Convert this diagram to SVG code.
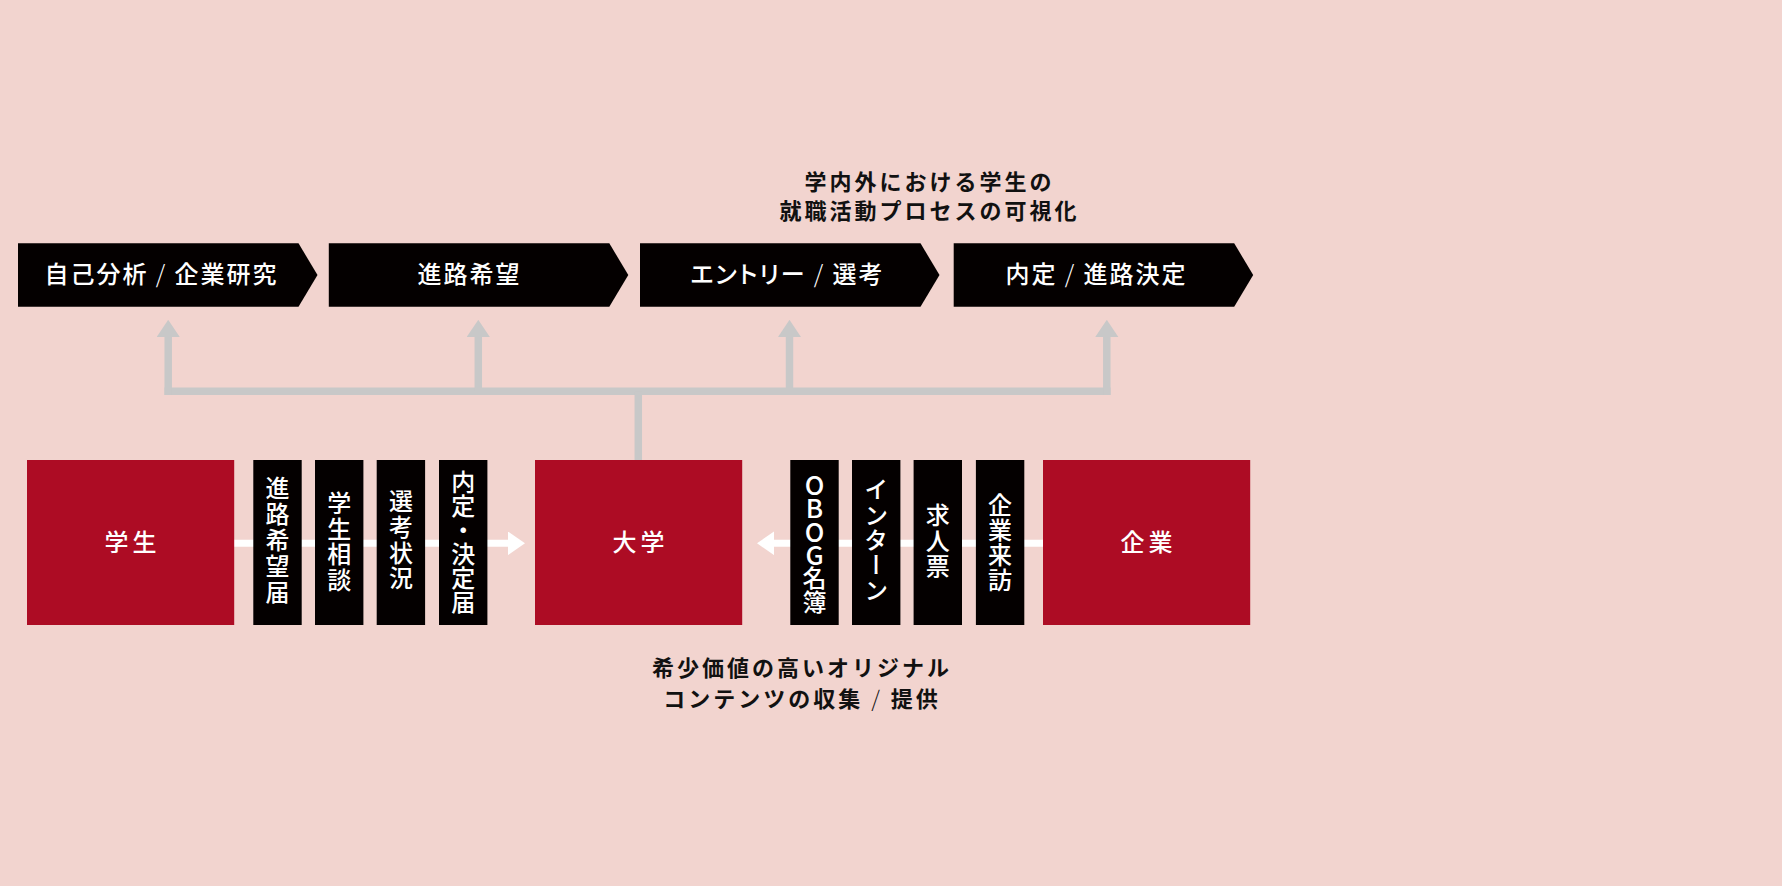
<svg xmlns="http://www.w3.org/2000/svg" width="1782" height="886" viewBox="0 0 1782 886">
<defs>
<style>
text{font-family:"Noto Sans CJK JP","Noto Sans",sans-serif;font-weight:500;}
.bg{fill:#f2d4cf;}
.chev{fill:#040000;}
.red{fill:#ad0c24;}
.col{fill:#040000;}
.chevt{fill:#ffffff;font-size:24px;letter-spacing:2px;text-anchor:middle;font-feature-settings:"palt";}
.big{fill:#ffffff;font-size:24px;letter-spacing:4px;text-anchor:middle;}
.vt{fill:#ffffff;font-size:24px;text-anchor:middle;writing-mode:vertical-rl;text-orientation:upright;}
.lat{font-size:26px;letter-spacing:-2.5px;}
.cap{fill:#111111;font-size:22px;letter-spacing:3px;text-anchor:middle;font-weight:700;}
.thin{font-weight:300;}
.gline{stroke:#c8c8c8;stroke-width:7.5;fill:none;}
.wline{stroke:#ffffff;stroke-width:7;fill:none;}
</style>
<marker id="ga" markerUnits="userSpaceOnUse" viewBox="0 0 17.4 23.4" refX="0.5" refY="11.7" markerWidth="17.4" markerHeight="23.4" orient="auto">
<path d="M0,0 L17.4,11.7 L0,23.4 Z" fill="#c8c8c8"/>
</marker>
<marker id="wa" markerUnits="userSpaceOnUse" viewBox="0 0 17 23.6" refX="0.5" refY="11.8" markerWidth="17" markerHeight="23.6" orient="auto">
<path d="M0,0 L17,11.8 L0,23.6 Z" fill="#ffffff"/>
</marker>
<polygon id="chevShape" points="0,0 280.5,0 299.5,31.7 280.5,63.4 0,63.4"/>
</defs>

<rect class="bg" x="0" y="0" width="1782" height="886"/>

<g id="caption-top">
<text class="cap" x="929.5" y="189.8">学内外における学生の</text>
<text class="cap" x="929.5" y="219.1">就職活動プロセスの可視化</text>
</g>

<g id="connectors">
<path class="gline" d="M164.45,391.3 H1110.55"/>
<path class="gline" d="M168.2,395 V336.7" marker-end="url(#ga)"/>
<path class="gline" d="M478.3,391.3 V336.7" marker-end="url(#ga)"/>
<path class="gline" d="M789.5,391.3 V336.7" marker-end="url(#ga)"/>
<path class="gline" d="M1106.8,395 V336.7" marker-end="url(#ga)"/>
<path class="gline" d="M638.3,391.3 V460"/>
<path class="wline" d="M234,543.3 H508.5" marker-end="url(#wa)"/>
<path class="wline" d="M1043,543.3 H773.5" marker-end="url(#wa)"/>
</g>

<g id="step-1">
<use href="#chevShape" class="chev" x="18" y="243.3"/>
<text class="chevt" x="161.5" y="282.9">自己分析<tspan class="thin"> / </tspan>企業研究</text>
</g>
<g id="step-2">
<use href="#chevShape" class="chev" x="328.8" y="243.3"/>
<text class="chevt" x="469.5" y="282.9">進路希望</text>
</g>
<g id="step-3">
<use href="#chevShape" class="chev" x="640" y="243.3"/>
<text class="chevt" x="787.5" y="282.9">エントリー<tspan class="thin"> / </tspan>選考</text>
</g>
<g id="step-4">
<use href="#chevShape" class="chev" x="953.7" y="243.3"/>
<text class="chevt" x="1096.5" y="282.9">内定<tspan class="thin"> / </tspan>進路決定</text>
</g>

<g id="student">
<rect class="red" x="27" y="460" width="207.2" height="165"/>
<text class="big" x="132.6" y="551.4">学生</text>
</g>
<g id="university">
<rect class="red" x="535" y="460" width="207.2" height="165"/>
<text class="big" x="640.6" y="551.4">大学</text>
</g>
<g id="company">
<rect class="red" x="1043" y="460" width="207.2" height="165"/>
<text class="big" x="1148.6" y="551.4">企業</text>
</g>

<g id="item-shinro-kibo">
<rect class="col" x="253.3" y="460" width="48.4" height="165"/>
<text class="vt" x="277.5" y="540.6" style="letter-spacing:2px">進路希望届</text>
</g>
<g id="item-gakusei-sodan">
<rect class="col" x="315" y="460" width="48.4" height="165"/>
<text class="vt" x="339.2" y="542.2" style="letter-spacing:1.8px">学生相談</text>
</g>
<g id="item-senko-jokyo">
<rect class="col" x="376.7" y="460" width="48.4" height="165"/>
<text class="vt" x="400.9" y="540.4" style="letter-spacing:1.8px">選考状況</text>
</g>
<g id="item-naitei">
<rect class="col" x="439" y="460" width="48.4" height="165"/>
<text class="vt" x="463.2" y="541.7" style="letter-spacing:0px">内定・決定届</text>
</g>

<g id="item-obog">
<rect class="col" x="790.3" y="460" width="48.4" height="165"/>
<text class="vt" x="814.5" y="542.9" style="letter-spacing:0px"><tspan class="lat">OBOG</tspan>名簿</text>
</g>
<g id="item-intern">
<rect class="col" x="852" y="460" width="48.4" height="165"/>
<text class="vt" x="876.2" y="540.2" style="letter-spacing:1.2px">インターン</text>
</g>
<g id="item-kyujinhyo">
<rect class="col" x="913.6" y="460" width="48.4" height="165"/>
<text class="vt" x="937.8" y="541.1" style="letter-spacing:1.4px">求人票</text>
</g>
<g id="item-kigyo-raiho">
<rect class="col" x="975.9" y="460" width="48.4" height="165"/>
<text class="vt" x="1000.1" y="542.6" style="letter-spacing:1px">企業来訪</text>
</g>

<g id="caption-bottom">
<text class="cap" x="802" y="676.1">希少価値の高いオリジナル</text>
<text class="cap" x="802" y="707.1">コンテンツの収集<tspan class="thin"> / </tspan>提供</text>
</g>
</svg>
